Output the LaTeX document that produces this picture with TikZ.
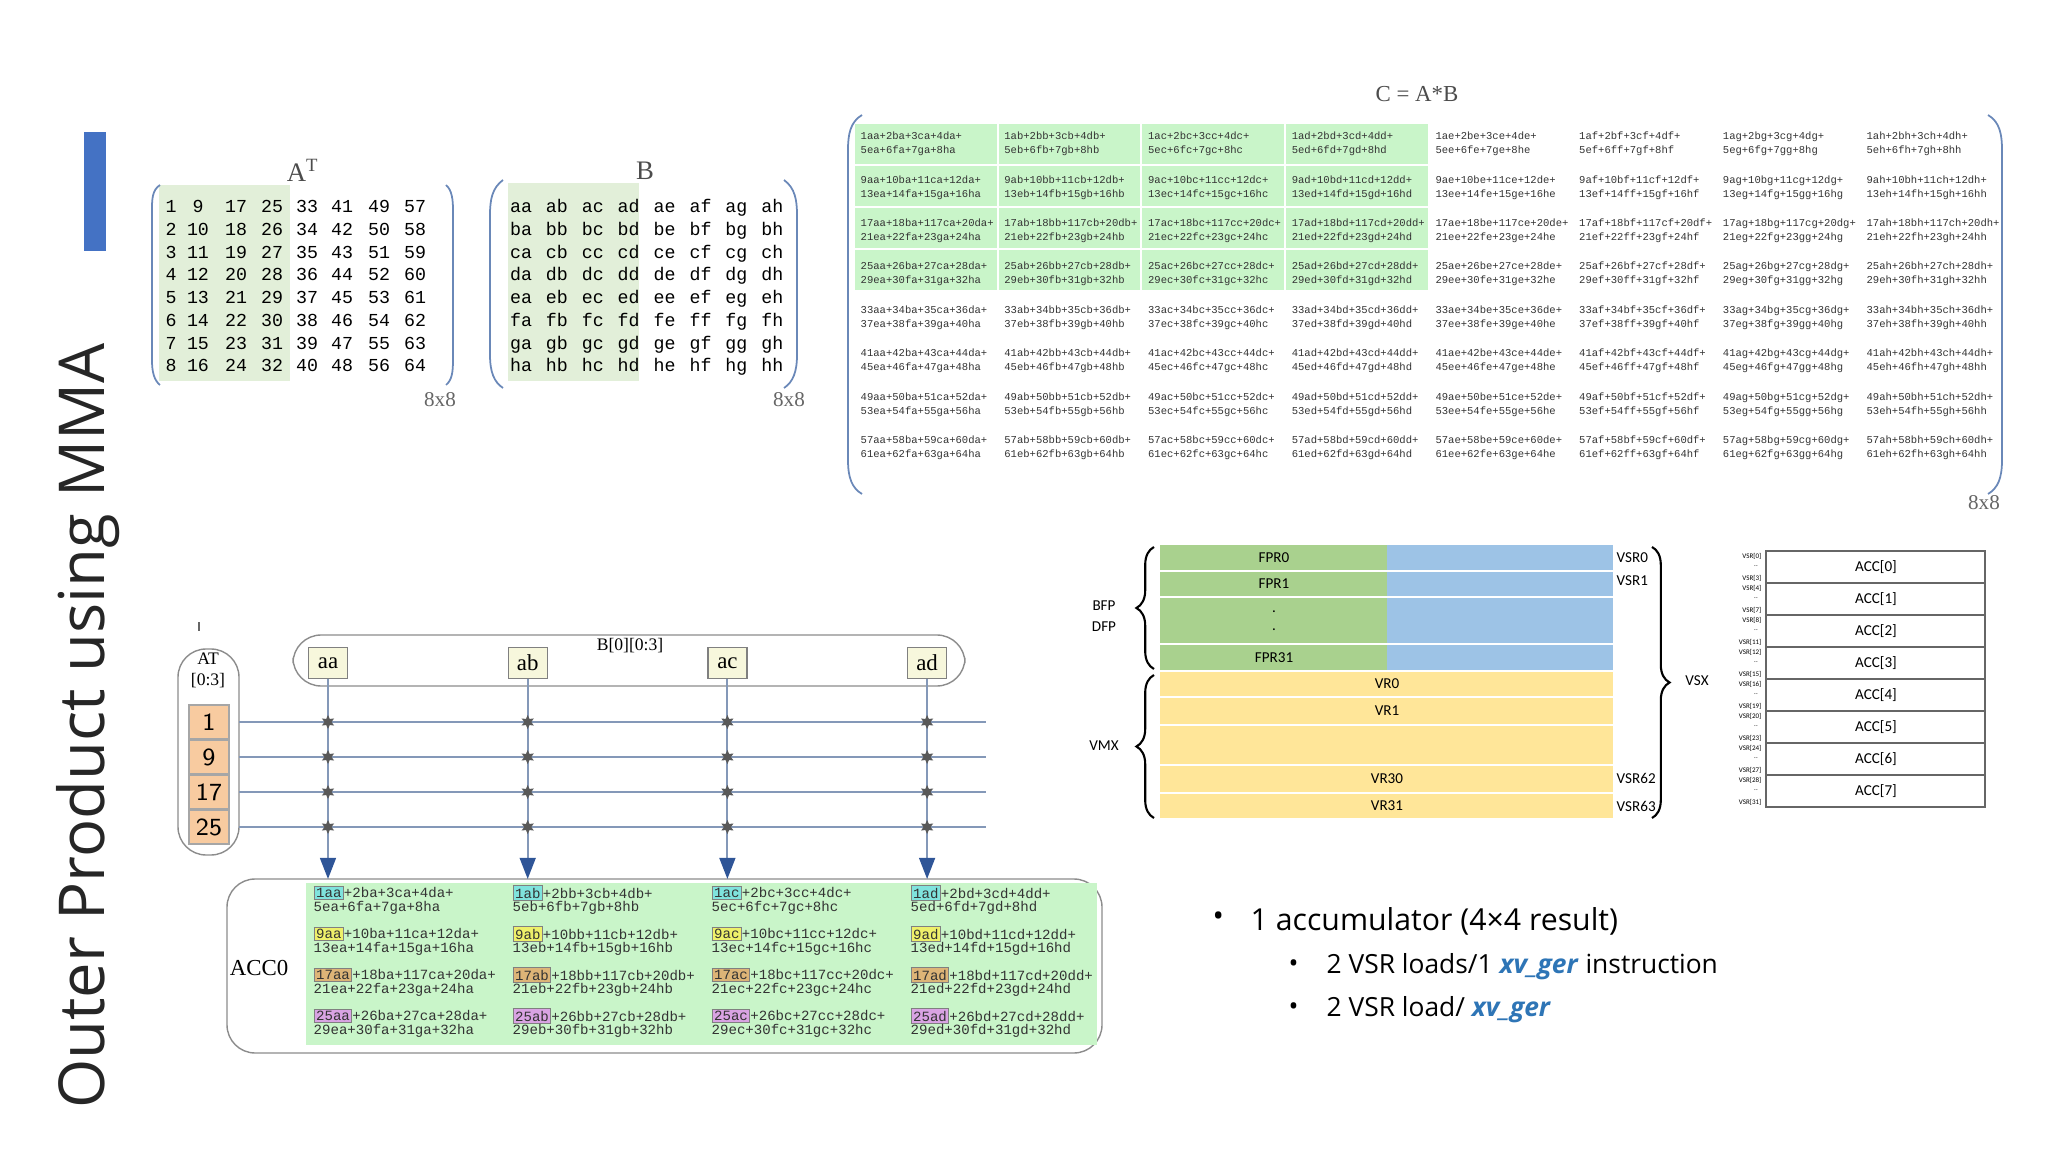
\documentclass[tikz,border=0pt]{standalone}
\usepackage{fontspec}
\setmainfont{Liberation Serif}
\setmonofont{Liberation Mono}
\newfontfamily\titlefont{Open Sans}
\newfontfamily\regfont{Carlito}
\usetikzlibrary{arrows.meta,shapes.geometric,decorations.pathreplacing}
\definecolor{slideblue}{HTML}{4472C4}
\definecolor{parenblue}{HTML}{6A88B8}
\definecolor{matgreen}{HTML}{E2EFD9}
\definecolor{cgreen}{HTML}{C9F5C9}
\definecolor{fprgreen}{HTML}{A9D18E}
\definecolor{vsrblue}{HTML}{9DC3E6}
\definecolor{vryellow}{HTML}{FFE699}
\definecolor{atorange}{HTML}{F8CBA0}
\definecolor{bcellfill}{HTML}{F7F7DC}
\definecolor{linegray}{HTML}{8498B8}
\definecolor{arrowblue}{HTML}{2F5597}
\definecolor{gerblue}{HTML}{2E75B6}
\definecolor{tokcyan}{HTML}{7FE3DD}
\definecolor{tokyellow}{HTML}{EEF06A}
\definecolor{tokorange}{HTML}{DDB477}
\definecolor{tokpink}{HTML}{D9A3E3}
\newcommand{\tok}[2]{{\setlength\fboxsep{0.4pt}\setlength\fboxrule{0.3pt}\fcolorbox{gray}{#1}{#2}}}
\tikzset{
  mat/.style={font=\ttfamily\fontsize{5.2}{6}\selectfont, inner sep=0pt, text height=1.4ex, text depth=0.3ex},
  matlabel/.style={font=\fontsize{7.6}{8}\selectfont, text=black!70},
  sizelabel/.style={font=\fontsize{6}{7}\selectfont, text=black!60},
  ccell/.style={font=\ttfamily\fontsize{3}{4}\selectfont, align=left, anchor=west, inner sep=0pt, text=black!80},
  acell/.style={font=\ttfamily\fontsize{4}{3.9}\selectfont, align=left, anchor=west, inner sep=0pt, text=black!80},
  paren/.style={parenblue, line width=0.5pt},
  reg/.style={font=\regfont\fontsize{4.3}{5}\selectfont, inner sep=0pt},
  bcell/.style={draw=gray, fill=bcellfill, minimum width=39*0.01cm, minimum height=31*0.01cm, font=\fontsize{6.5}{7}\selectfont, inner sep=0pt},
  atcell/.style={draw=black!35, fill=atorange, minimum width=40*0.01cm, minimum height=34*0.01cm, font=\sffamily\fontsize{7}{8}\selectfont, inner sep=0pt},
  prod/.style={star, star points=6, star point ratio=2, fill=black!65, minimum size=4pt, inner sep=0pt},
  feed/.style={linegray, line width=0.6pt},
  brc/.style={decorate, decoration={brace, amplitude=5pt}, line width=0.6pt},
  bul/.style={font=\titlefont\fontsize{8.6}{9}\selectfont, anchor=west, inner sep=0pt},
  subbul/.style={font=\titlefont\fontsize{7.5}{8}\selectfont, anchor=west, inner sep=0pt}
}
\begin{document}
\begin{tikzpicture}[x=0.01cm, y=-0.01cm]
    \useasboundingbox (0,0) rectangle (2048,1152);

    % Title
    \fill[slideblue] (84,132) rectangle (106,251);
    \node[rotate=90, font=\titlefont\fontsize{18}{19}\selectfont, text=black!85] (title) at (88,726) {Outer Product using MMA};

    % A transposed
    \fill[matgreen] (159,185) rectangle (290,381);
    \draw[paren] (160,185) .. controls (152,190) and (152,200) .. (152,210) -- (152,360) .. controls (152,372) and (154,380) .. (160,385);
    \draw[paren] (446,185) .. controls (452,190) and (453,200) .. (453,210) -- (453,360) .. controls (453,372) and (452,380) .. (446,385);
    \node[matlabel] (atlab) at (303,170) {A\textsuperscript{T}};
    \node[sizelabel] (atsize) at (440,400) {8x8};
    \foreach \r in {1,...,8}{
      \foreach \x [count=\c from 0] in {171,198,236,272,307,342,379,415}{
        \pgfmathtruncatemacro\v{\r+8*\c}
        \node[mat] (a\r\c) at (\x,{204+22.7*(\r-1)}) {\v};
      }
    }

    % B
    \fill[matgreen] (508,183) rectangle (639,381);
    \draw[paren] (503,180) .. controls (492,188) and (490,200) .. (490,215) -- (490,355) .. controls (490,372) and (494,382) .. (503,388);
    \draw[paren] (784,180) .. controls (795,188) and (797,200) .. (797,215) -- (797,355) .. controls (797,372) and (793,382) .. (784,388);
    \node[matlabel] (blab) at (645,171) {B};
    \node[sizelabel] (bsize) at (789,400) {8x8};
    \foreach \ra [count=\r from 0] in {a,...,h}{
      \foreach \cb [count=\c from 0] in {a,...,h}{
        \node[mat] (b\ra\cb) at ({521+35.9*\c},{204+22.7*\r}) {\ra\cb};
      }
    }

    % C = A*B
    \node[font=\fontsize{6.5}{7}\selectfont, text=black!70] (clab) at (1417,94) {C = A*B};
    \node[sizelabel] (csize) at (1984,503) {8x8};
    \draw[paren] (862,115) .. controls (850,122) and (848,135) .. (848,150) -- (848,460) .. controls (848,478) and (852,488) .. (862,494);
    \draw[paren] (1988,115) .. controls (2000,122) and (2002,135) .. (2002,150) -- (2002,460) .. controls (2002,478) and (1998,488) .. (1988,494);
    \foreach \r in {0,...,3}{
      \foreach \c in {0,...,3}{
        \fill[cgreen] ({855+143.7*\c},{124+42*\r}) rectangle ({855+143.7*\c+141.5},{124+42*\r+40});
      }
    }
    \foreach \r in {0,...,7}{
      \foreach \l [count=\c from 0] in {a,...,h}{
        \pgfmathtruncatemacro\nA{8*\r+1}
        \pgfmathtruncatemacro\nB{8*\r+2}
        \pgfmathtruncatemacro\nC{8*\r+3}
        \pgfmathtruncatemacro\nD{8*\r+4}
        \pgfmathtruncatemacro\nE{8*\r+5}
        \pgfmathtruncatemacro\nF{8*\r+6}
        \pgfmathtruncatemacro\nG{8*\r+7}
        \pgfmathtruncatemacro\nH{8*\r+8}
        \ifnum\r=2 \def\nC{117}\fi
        \node[ccell] (c\r\l) at ({860+143.7*\c},{144+43.4*\r}) {\nA a\l+\nB b\l+\nC c\l+\nD d\l+\\\nE e\l+\nF f\l+\nG g\l+\nH h\l};
      }
    }

    % Register file
    \fill[fprgreen] (1160,545) rectangle (1387,671);
    \fill[vsrblue] (1387,545) rectangle (1613,671);
    \fill[vryellow] (1160,671) rectangle (1613,818);
    \foreach \y in {571,597,644,671,697,725,765,793}{
      \draw[white, line width=0.8pt] (1160,\y) -- (1613,\y);
    }
    \node[reg] (fpr0) at (1274,558) {FPR0};
    \node[reg] (fpr1) at (1274,584) {FPR1};
    \node[reg] (dot1) at (1274,612) {.};
    \node[reg] (dot2) at (1274,630) {.};
    \node[reg] (fpr31) at (1274,658) {FPR31};
    \node[reg] (vr0) at (1387,684) {VR0};
    \node[reg] (vr1) at (1387,711) {VR1};
    \node[reg] (vr30) at (1387,779) {VR30};
    \node[reg] (vr31) at (1387,806) {VR31};
    \node[reg, anchor=west] (vsr0) at (1616,558) {VSR0};
    \node[reg, anchor=west] (vsr1) at (1616,581) {VSR1};
    \node[reg, anchor=west] (vsr62) at (1616,778) {VSR62};
    \node[reg, anchor=west] (vsr63) at (1616,806) {VSR63};
    \draw[brc] (1154,669) -- (1154,547);
    \draw[brc] (1154,818) -- (1154,675);
    \draw[brc] (1652,547) -- (1652,818);
    \node[reg] (bfp) at (1104,606) {BFP};
    \node[reg] (dfp) at (1104,627) {DFP};
    \node[reg] (vmx) at (1104,746) {VMX};
    \node[reg] (vsx) at (1697,681) {VSX};

    % Accumulators
    \foreach \k in {0,...,7}{
      \pgfmathtruncatemacro\va{4*\k}
      \pgfmathtruncatemacro\vb{4*\k+3}
      \draw[black!60, line width=0.6pt] (1766,{551+32*\k}) rectangle (1985,{583+32*\k});
      \node[reg] (acc\k) at (1876,{567+32*\k}) {ACC[\k]};
      \node[reg, font=\regfont\fontsize{2}{2}\selectfont, anchor=east] (vt\k) at (1762,{556+32*\k}) {VSR[\va]};
      \node[reg, font=\regfont\fontsize{2}{2}\selectfont] (vm\k) at (1756,{566+32*\k}) {..};
      \node[reg, font=\regfont\fontsize{2}{2}\selectfont, anchor=east] (vb\k) at (1762,{578+32*\k}) {VSR[\vb]};
    }

    % Bullets
    \node[bul] (b1dot) at (1212,919) {\textbullet};
    \node[bul] (b1) at (1250,921) {1 accumulator (4\texttimes4 result)};
    \node[subbul] (b2dot) at (1288,966) {\textbullet};
    \node[subbul] (b2) at (1326,967) {2 VSR loads/1 \textcolor{gerblue}{\textbf{\textit{xv\_ger}}} instruction};
    \node[subbul] (b3dot) at (1288,1009) {\textbullet};
    \node[subbul] (b3) at (1326,1010) {2 VSR load/ \textcolor{gerblue}{\textbf{\textit{xv\_ger}}}};

    % Outer product
    \draw[black!60] (199,622) -- (199,631);
    \draw[black!45, rounded corners=8pt] (178,649) rectangle (239,855);
    \node[font=\fontsize{5}{6}\selectfont, align=center, inner sep=0pt] (atname) at (208,670) {AT\\[0][0:3]};
    \draw[black!45, rounded corners=8pt] (293,635) rectangle (965,686);
    \node[font=\fontsize{5}{6}\selectfont, inner sep=0pt] (bname) at (630,646) {B[0][0:3]};
    \foreach \v [count=\i from 0] in {1,9,17,25}{
      \node[atcell] (at\i) at (209,{722+35*\i}) {\v};
      \coordinate (rowend\i) at (986,{722+35*\i});
      \draw[feed] (239,{722+35*\i}) -- (rowend\i);
    }
    \draw[black!45, rounded corners=8pt] (227,879) rectangle (1102,1053);
    \node[font=\fontsize{6.5}{7}\selectfont, inner sep=0pt] (accname) at (259,968) {ACC0};
    \fill[cgreen] (306,883) rectangle (1097,1045);
    \foreach \l [count=\c from 0] in {a,b,c,d}{
      \node[bcell] (bc\l) at ({328+199.7*\c},663) {a\l};
      \coordinate (accin\l) at ({328+199.7*\c},879);
      \draw[feed, -{Triangle[length=6pt, width=4.5pt, color=arrowblue]}] (bc\l) -- (accin\l);
      \foreach \i in {0,...,3}{
        \node[prod] (p\l\i) at ({328+199.7*\c},{722+35*\i}) {};
      }
    }
    \foreach \l [count=\c from 0] in {a,b,c,d}{
      \foreach \r/\tc in {0/tokcyan,1/tokyellow,2/tokorange,3/tokpink}{
        \pgfmathtruncatemacro\nA{8*\r+1}
        \pgfmathtruncatemacro\nB{8*\r+2}
        \pgfmathtruncatemacro\nC{8*\r+3}
        \pgfmathtruncatemacro\nD{8*\r+4}
        \pgfmathtruncatemacro\nE{8*\r+5}
        \pgfmathtruncatemacro\nF{8*\r+6}
        \pgfmathtruncatemacro\nG{8*\r+7}
        \pgfmathtruncatemacro\nH{8*\r+8}
        \ifnum\r=2 \def\nC{117}\fi
        \node[acell] (acc\l\r) at ({313+199*\c},{900+41*\r}) {\tok{\tc}{\nA a\l}+\nB b\l+\nC c\l+\nD d\l+\\\nE e\l+\nF f\l+\nG g\l+\nH h\l};
      }
    }
\end{tikzpicture}
\end{document}
